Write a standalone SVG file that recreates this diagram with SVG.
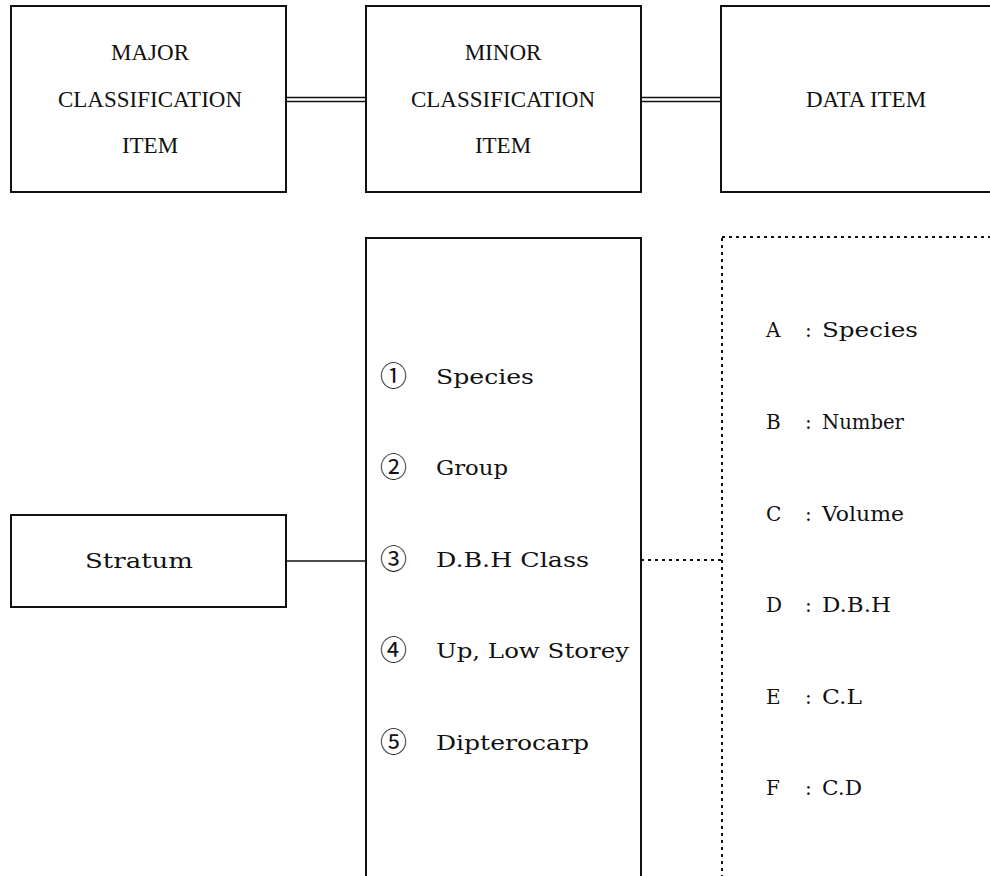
<svg xmlns="http://www.w3.org/2000/svg" width="990" height="876" viewBox="0 0 990 876">
<style>
.box{fill:#fff;stroke:#111;stroke-width:2}
.hdr{font-family:"Liberation Serif","Times New Roman",serif;font-size:23px;fill:#111;text-anchor:middle}
.txt{font-family:"DejaVu Serif","Liberation Serif",serif;font-size:20px;fill:#111}
.num{font-family:"Noto Sans CJK JP","DejaVu Sans",sans-serif;font-size:27px;fill:#111}
.ln{stroke:#111;stroke-width:1.5;fill:none}
.dot{stroke:#111;stroke-width:2;fill:none;stroke-dasharray:3 4}
</style>
<rect width="990" height="876" fill="#fff"/>
<g id="connectors">
  <line class="ln" x1="286" y1="97.5" x2="366" y2="97.5"/>
  <line class="ln" x1="286" y1="101.5" x2="366" y2="101.5"/>
  <line class="ln" x1="641" y1="97.5" x2="721" y2="97.5"/>
  <line class="ln" x1="641" y1="101.5" x2="721" y2="101.5"/>
  <line class="ln" x1="286" y1="561" x2="366" y2="561"/>
  <line class="dot" x1="641" y1="560" x2="721" y2="560" stroke-dasharray="4 3" stroke-width="1.5"/>
</g>
<g id="major">
  <rect class="box" x="11" y="6" width="275" height="186"/>
  <text class="hdr" x="150" y="60">MAJOR</text>
  <text class="hdr" x="150" y="107">CLASSIFICATION</text>
  <text class="hdr" x="150" y="153">ITEM</text>
</g>
<g id="minor">
  <rect class="box" x="366" y="6" width="275" height="186"/>
  <text class="hdr" x="503" y="60">MINOR</text>
  <text class="hdr" x="503" y="107">CLASSIFICATION</text>
  <text class="hdr" x="503" y="153">ITEM</text>
</g>
<g id="data">
  <rect class="box" x="721" y="6" width="290" height="186"/>
  <text class="hdr" x="866" y="107">DATA ITEM</text>
</g>
<g id="stratum">
  <rect class="box" x="11" y="515" width="275" height="92"/>
  <text class="txt" x="85" y="568" textLength="108" lengthAdjust="spacingAndGlyphs">Stratum</text>
</g>
<g id="minor-list">
  <rect class="box" x="366" y="238" width="275" height="660"/>
  <text class="num" x="380" y="386">①</text><text class="txt" x="436" y="384" textLength="98" lengthAdjust="spacingAndGlyphs">Species</text>
  <text class="num" x="380" y="477">②</text><text class="txt" x="436" y="475" textLength="72" lengthAdjust="spacingAndGlyphs">Group</text>
  <text class="num" x="380" y="569">③</text><text class="txt" x="436" y="567" textLength="153" lengthAdjust="spacingAndGlyphs">D.B.H Class</text>
  <text class="num" x="380" y="660">④</text><text class="txt" x="436" y="658" textLength="193" lengthAdjust="spacingAndGlyphs">Up, Low Storey</text>
  <text class="num" x="380" y="752">⑤</text><text class="txt" x="436" y="750" textLength="153" lengthAdjust="spacingAndGlyphs">Dipterocarp</text>
</g>
<g id="data-list">
  <line class="dot" x1="722" y1="238" x2="722" y2="876"/>
  <line class="dot" x1="722" y1="237" x2="990" y2="237" stroke-width="1.5"/>
  <text class="txt" y="337"><tspan x="766">A</tspan><tspan x="805">:</tspan><tspan x="822" textLength="96" lengthAdjust="spacingAndGlyphs">Species</tspan></text>
  <text class="txt" y="429"><tspan x="766">B</tspan><tspan x="805">:</tspan><tspan x="822" textLength="82" lengthAdjust="spacingAndGlyphs">Number</tspan></text>
  <text class="txt" y="521"><tspan x="766">C</tspan><tspan x="805">:</tspan><tspan x="822" textLength="82" lengthAdjust="spacingAndGlyphs">Volume</tspan></text>
  <text class="txt" y="612"><tspan x="766">D</tspan><tspan x="805">:</tspan><tspan x="822" textLength="69" lengthAdjust="spacingAndGlyphs">D.B.H</tspan></text>
  <text class="txt" y="704"><tspan x="766">E</tspan><tspan x="805">:</tspan><tspan x="822" textLength="40" lengthAdjust="spacingAndGlyphs">C.L</tspan></text>
  <text class="txt" y="795"><tspan x="766">F</tspan><tspan x="805">:</tspan><tspan x="822" textLength="40" lengthAdjust="spacingAndGlyphs">C.D</tspan></text>
</g>
</svg>
